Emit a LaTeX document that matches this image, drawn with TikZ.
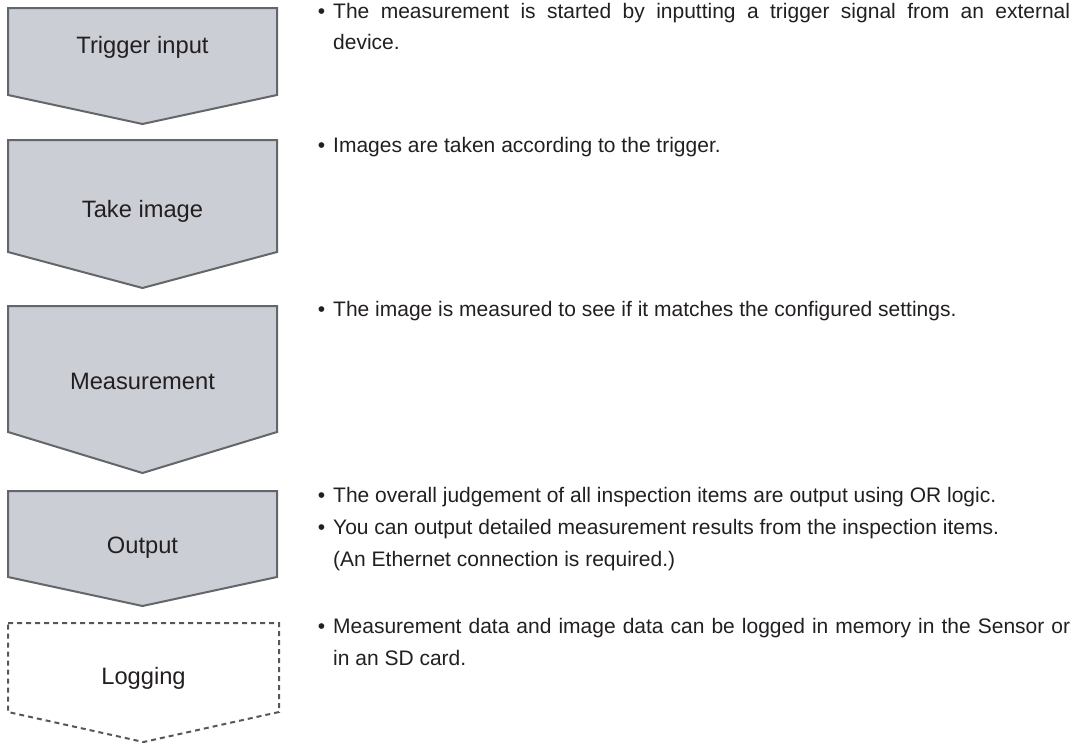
\documentclass[tikz,border=0pt]{standalone}
\usepackage{fontspec}
\setmainfont{Liberation Sans}
\tolerance=10000
\hbadness=10000
\definecolor{boxfill}{RGB}{203,206,212}
\definecolor{boxline}{RGB}{99,103,107}
\definecolor{dashline}{RGB}{85,88,91}
\definecolor{txt}{RGB}{35,31,32}
\newcommand{\bul}{\leavevmode\llap{•\hspace{8pt}}}
\begin{document}
\begin{tikzpicture}[x=1pt,y=-1pt,
  stepshape/.style={fill=boxfill, draw=boxline, line width=2pt, line join=miter},
  dashshape/.style={fill=white, draw=dashline, line width=2pt, dash pattern=on 5pt off 4pt},
  steplabel/.style={font=\fontsize{23.7}{28}\selectfont, text=txt, anchor=base, inner sep=0pt},
  desc/.style={font=\fontsize{21}{32}\selectfont, text=txt, anchor=base west, inner sep=0pt}]
\useasboundingbox (0,0) rectangle (1080,744);
% step shapes
\draw[stepshape] (8,8) -- (277,8) -- (277,95) -- (142.5,124) -- (8,95) -- cycle;
\draw[stepshape] (8,140) -- (277,140) -- (277,252) -- (142.5,288) -- (8,252) -- cycle;
\draw[stepshape] (8,306) -- (277,306) -- (277,432) -- (142.5,473) -- (8,432) -- cycle;
\draw[stepshape] (8,491) -- (277,491) -- (277,577) -- (142.5,606) -- (8,577) -- cycle;
\draw[dashshape] (8,623) -- (279,623) -- (279,712) -- (143.5,742) -- (8,712) -- cycle;
% labels
\node[steplabel] (trig) at (142.5,53) {Trigger input};
\node[steplabel] (take) at (142.5,217) {Take image};
\node[steplabel] (meas) at (142.5,389) {Measurement};
\node[steplabel] (outp) at (142.5,553) {Output};
\node[steplabel] (logg) at (143.5,684) {Logging};
% descriptions
\node[desc] (d1) at (333,18) {\parbox[t]{737pt}{\bul The measurement is started by inputting a trigger signal from an external\linebreak device.}};
\node[desc] (d2) at (333,152) {\parbox[t]{737pt}{\bul Images are taken according to the trigger.}};
\node[desc] (d3) at (333,316) {\parbox[t]{737pt}{\bul The image is measured to see if it matches the configured settings.}};
\node[desc] (d4) at (333,502) {\parbox[t]{737pt}{\bul The overall judgement of all inspection items are output using OR logic.\par
\bul You can output detailed measurement results from the inspection items.\par
(An Ethernet connection is required.)}};
\node[desc] (d5) at (333,633) {\parbox[t]{737pt}{\bul Measurement data and image data can be logged in memory in the Sensor or\linebreak in an SD card.}};
\end{tikzpicture}
\end{document}
